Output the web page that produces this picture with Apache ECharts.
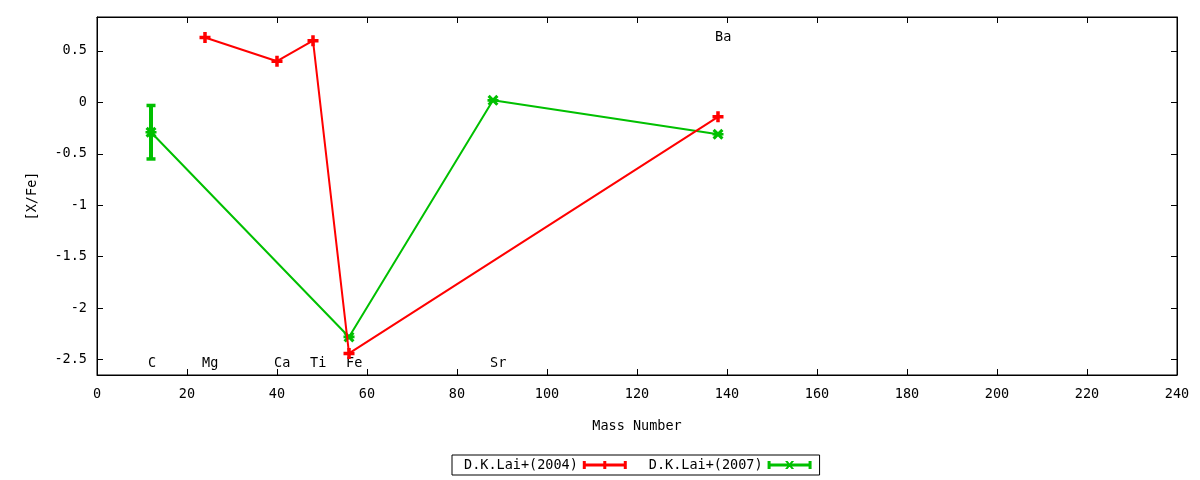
<!DOCTYPE html>
<html>
<head>
<meta charset="utf-8">
<script src="https://cdn.jsdelivr.net/npm/echarts@6/dist/echarts.min.js"></script>
<style>
  html, body { margin: 0; padding: 0; background: #fff; }
  #main { width: 1200px; height: 480px; }
</style>
</head>
<body>
<div id="main"></div>
<script>
// D.K.Lai+(2004)
var lai04X = [24, 40, 48, 56, 138];
var lai04Y = [0.63, 0.40, 0.60, -2.44, -0.14];
// D.K.Lai+(2007)
var lai07X = [12, 56, 88, 138];
var lai07Y = [-0.29, -2.28, 0.02, -0.31];
// error bars (only C has a visible one)
var errX = [12];
var errLow = [-0.55];
var errHigh = [-0.03];
// element labels
var elemNames = ['C', 'Mg', 'Ca', 'Ti', 'Fe', 'Sr', 'Ba'];
var elemX = [12, 24, 40, 48, 56, 88, 138];
var elemY = [-2.54, -2.54, -2.54, -2.54, -2.54, -2.54, 0.63];
var yTicks = [-2.5, -2, -1.5, -1, -0.5, 0, 0.5];

var FONT = 'DejaVu Sans Mono';
var FS = 13.5;
var RED = '#ff0000';
var GREEN = '#00c000';

function pairs(xs, ys) {
    var out = [];
    for (var i = 0; i < xs.length; i++) out.push([xs[i], ys[i]]);
    return out;
}
var errData = [];
for (var i = 0; i < errX.length; i++) errData.push([errX[i], errLow[i], errHigh[i]]);
var labelData = [];
for (var j = 0; j < elemNames.length; j++) labelData.push({name: elemNames[j], value: [elemX[j], elemY[j]]});

// bold plus / bold cross with a centre cap, like gnuplot's yerrorlines points
var plusPath = 'path://M3.4,0H6.6V3.4H10V6.6H6.6V10H3.4V6.6H0V3.4H3.4Z';
var crossPath = 'path://M0,2L2,0L10,8L8,10Z M8,0L10,2L2,10L0,8Z M0,3.8H10V6.2H0Z';
var legRed = 'path://M0,0H3V8H0Z M41,0H44V8H41Z M20.5,0H23.5V8H20.5Z M0,2.5H44V5.5H0Z';
var legGreen = 'path://M0,0H3V8H0Z M41,0H44V8H41Z M17.5,0L20,0L26.5,8L24,8Z M24,0L26.5,0L20,8L17.5,8Z M0,2.5H44V5.5H0Z';

var axisCommon = {
    axisLine: {show: true, onZero: false, lineStyle: {color: '#000', width: 1}},
    axisTick: {show: true, inside: true, length: 6, lineStyle: {color: '#000', width: 1}},
    splitLine: {show: false},
    axisLabel: {color: '#000', fontFamily: FONT, fontSize: FS}
};

var myChart = echarts.init(document.getElementById('main'));
var option = {
    backgroundColor: '#fff',
    animation: false,
    textStyle: {fontFamily: FONT},
    grid: {left: 97, right: 23, top: 17, bottom: 105, show: true, borderColor: '#000', borderWidth: 1},
    legend: {
        left: 452, top: 455,
        orient: 'horizontal',
        align: 'right',
        itemWidth: 44, itemHeight: 8, itemGap: 22,
        padding: [3, 8, 3, 12],
        borderColor: '#000', borderWidth: 1,
        textStyle: {fontFamily: FONT, fontSize: FS, color: '#000'},
        data: [
            {name: 'D.K.Lai+(2004)', icon: legRed},
            {name: 'D.K.Lai+(2007)', icon: legGreen}
        ]
    },
    xAxis: [
        echarts.util.merge({
            type: 'value', min: 0, max: 240, interval: 20, position: 'bottom',
            name: 'Mass Number', nameLocation: 'middle', nameGap: 44,
            nameTextStyle: {color: '#000', fontFamily: FONT, fontSize: FS},
            axisLabel: {margin: 12}
        }, axisCommon, false),
        echarts.util.merge({
            type: 'value', min: 0, max: 240, interval: 20, position: 'top',
            axisLabel: {show: false}
        }, axisCommon, false)
    ],
    yAxis: [
        echarts.util.merge({
            type: 'value', min: -2.65, max: 0.83, position: 'left',
            name: '[X/Fe]', nameLocation: 'middle', nameGap: 58, nameRotate: 90,
            nameTextStyle: {color: '#000', fontFamily: FONT, fontSize: FS},
            axisTick: {customValues: yTicks},
            axisLabel: {margin: 10, customValues: yTicks}
        }, axisCommon, false),
        echarts.util.merge({
            type: 'value', min: -2.65, max: 0.83, position: 'right',
            axisTick: {customValues: yTicks},
            axisLabel: {show: false, customValues: yTicks}
        }, axisCommon, false)
    ],
    series: [
        {
            name: 'D.K.Lai+(2004)',
            type: 'line',
            data: pairs(lai04X, lai04Y),
            symbol: plusPath,
            symbolSize: 11,
            showAllSymbol: true,
            itemStyle: {color: RED},
            lineStyle: {color: RED, width: 2},
            z: 3
        },
        {
            name: 'D.K.Lai+(2007)',
            type: 'line',
            data: pairs(lai07X, lai07Y),
            symbol: crossPath,
            symbolSize: 11,
            showAllSymbol: true,
            itemStyle: {color: GREEN},
            lineStyle: {color: GREEN, width: 2},
            z: 2
        },
        {
            name: 'err2007',
            type: 'custom',
            data: errData,
            z: 2,
            renderItem: function (params, api) {
                var x = api.value(0);
                var lo = api.coord([x, api.value(1)]);
                var hi = api.coord([x, api.value(2)]);
                var st = {stroke: GREEN, lineWidth: 4};
                var cap = {stroke: GREEN, lineWidth: 3.5};
                return {
                    type: 'group',
                    children: [
                        {type: 'line', shape: {x1: lo[0], y1: lo[1], x2: hi[0], y2: hi[1]}, style: st},
                        {type: 'line', shape: {x1: lo[0] - 4.5, y1: lo[1], x2: lo[0] + 4.5, y2: lo[1]}, style: cap},
                        {type: 'line', shape: {x1: hi[0] - 4.5, y1: hi[1], x2: hi[0] + 4.5, y2: hi[1]}, style: cap}
                    ]
                };
            }
        },
        {
            name: 'elements',
            type: 'scatter',
            data: labelData,
            symbolSize: 0,
            silent: true,
            itemStyle: {opacity: 1},
            label: {
                show: true,
                position: [-3, 0],
                align: 'left',
                verticalAlign: 'middle',
                formatter: '{b}',
                color: '#000',
                opacity: 1,
                fontFamily: FONT,
                fontSize: FS
            }
        }
    ]
};
myChart.setOption(option);
</script>
</body>
</html>
